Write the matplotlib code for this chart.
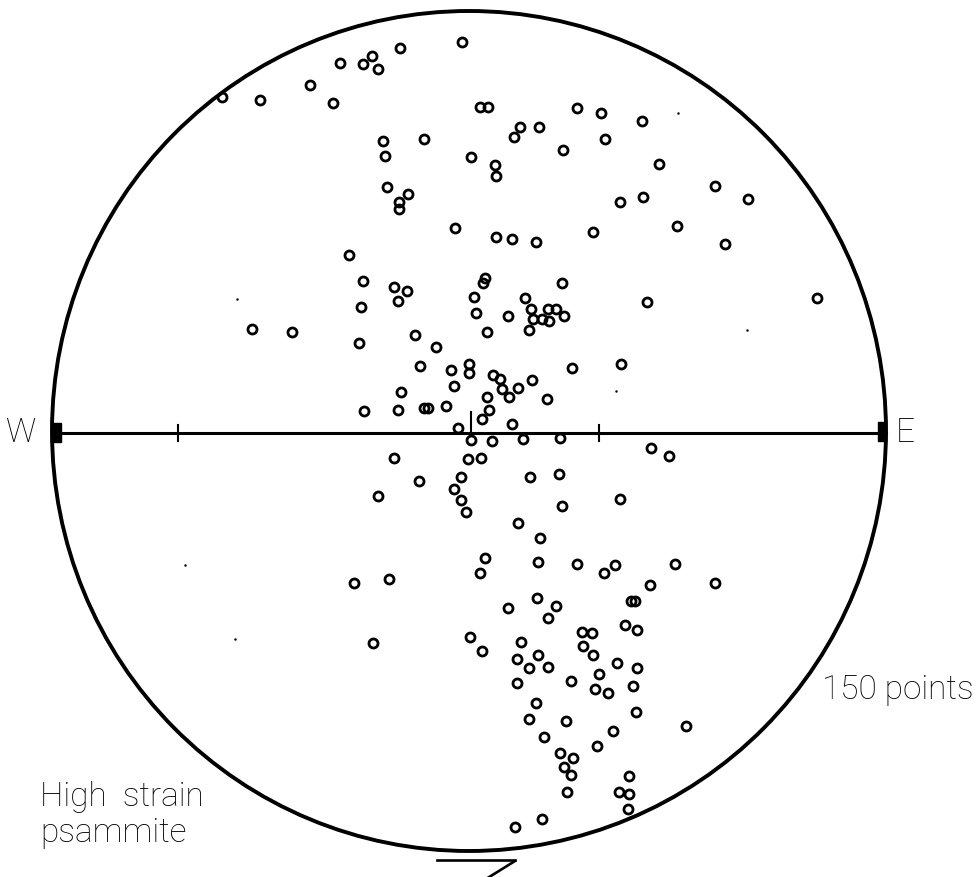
import matplotlib
matplotlib.use("Agg")
import matplotlib.pyplot as plt
from matplotlib.patches import Ellipse, Rectangle

# pole positions (pixel coords, y down)
pole_x = [222, 260, 310, 333, 340, 363, 372, 378, 400, 462, 480, 488, 383, 385, 424,
          471, 495, 496, 387, 408, 399, 399, 577, 601, 642, 520, 514, 539, 605, 563,
          659, 715, 748, 620, 643, 455, 349, 363, 394, 407, 398, 361, 252, 292, 359,
          415, 436, 474, 476, 485, 483, 487, 420, 451, 469, 469, 454, 401, 487, 364,
          398, 428, 424, 446, 482, 458, 489, 496, 512, 536, 593, 677, 725, 562, 525,
          531, 508, 533, 542, 549, 548, 556, 564, 529, 647, 817, 572, 621, 493, 500,
          502, 518, 532, 509, 547, 512,
          471, 492, 523, 560, 394, 468, 481, 419, 461, 530, 559, 378, 454, 461, 466,
          562, 518, 540, 485, 480, 538, 577, 354, 389, 537, 508, 556, 548, 582, 373,
          470, 521, 583, 482, 651, 669, 620, 604, 615, 675, 715, 650, 631, 635, 625,
          637, 592, 517, 538, 529, 548, 593, 617, 637, 599, 571, 517, 595, 608, 633,
          536, 636, 529, 566, 686, 613, 544, 597, 560, 573, 564, 571, 567, 629, 619,
          629, 628, 542, 515]
pole_y = [97, 100, 85, 103, 63, 64, 56, 69, 48, 42, 107, 107, 141, 156, 139,
          157, 165, 176, 187, 194, 202, 209, 108, 113, 121, 127, 137, 127, 139, 150,
          164, 186, 199, 202, 197, 228, 255, 281, 287, 291, 301, 307, 329, 332, 343,
          335, 347, 297, 313, 278, 283, 332, 366, 370, 364, 373, 386, 392, 397, 411,
          410, 408, 408, 406, 419, 428, 410, 237, 239, 242, 232, 226, 244, 283, 298,
          309, 316, 319, 319, 321, 309, 309, 316, 330, 302, 298, 368, 364, 375, 379,
          389, 388, 380, 397, 399, 424,
          440, 441, 439, 438, 458, 459, 458, 481, 477, 477, 474, 496, 489, 500, 512,
          506, 523, 538, 558, 573, 562, 564, 583, 579, 598, 608, 606, 618, 632, 643,
          637, 642, 646, 651, 448, 456, 499, 573, 565, 564, 583, 585, 601, 601, 625,
          630, 633, 659, 655, 668, 667, 655, 663, 668, 674, 681, 683, 689, 693, 686,
          703, 712, 719, 721, 726, 731, 737, 746, 753, 758, 767, 775, 792, 776, 792,
          794, 809, 819, 827]

# stray specks in the scan
speck_x = [237, 747, 616, 678, 185, 235]
speck_y = [299, 330, 391, 113, 565, 639]

net_cx, net_cy = 469, 431
net_w, net_h = 834, 840
tick_x = [178, 599]

fig = plt.figure(figsize=(9.78, 8.77), dpi=100)
ax = fig.add_axes([0, 0, 1, 1])
ax.set_xlim(0, 978)
ax.set_ylim(877, 0)
ax.axis('off')

ax.add_patch(Ellipse((net_cx, net_cy), net_w, net_h, fill=False, lw=2.8, ec='black'))

left = net_cx - net_w / 2
right = net_cx + net_w / 2
ax.plot([left, right], [433, 433], color='black', lw=2.2)
ax.add_patch(Rectangle((left, 423), 9, 19, color='black'))
ax.add_patch(Rectangle((right - 8, 422), 8, 19, color='black'))
for tx in tick_x:
    ax.plot([tx, tx], [425, 441], color='black', lw=1.5)
ax.plot([471, 471], [412, 433], color='black', lw=1.5)

# shear sense symbol under the net
ax.plot([437, 515], [860, 860], color='black', lw=1.9)
ax.plot([515, 486], [861, 879], color='black', lw=1.9)

ax.plot(pole_x, pole_y, 'o', ms=6.5, mfc='none', mec='black', mew=2.0)
ax.plot(speck_x, speck_y, '.', ms=1.5, color='black')

fam = ['Roboto', 'DejaVu Sans']
tkw = dict(fontsize=24, family=fam, fontweight='light', va='center')
ax.text(21, 433, 'W', ha='center', **tkw)
ax.text(896, 433, 'E', ha='left', **tkw)
ax.text(822, 690, '150 points', ha='left', **tkw)
ax.text(40, 797, 'High  strain', ha='left', **tkw)
ax.text(40, 833, 'psammite', ha='left', **tkw)

fig.savefig('out.png', dpi=100)
